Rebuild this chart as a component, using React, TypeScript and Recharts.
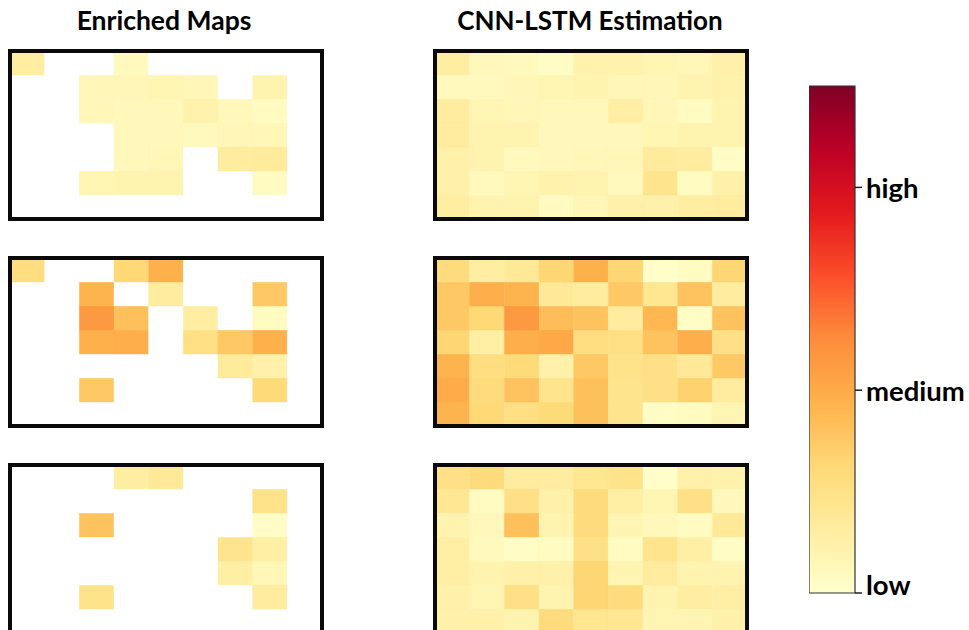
import React from 'react';
import { BarChart, Bar, XAxis, YAxis, Cell } from 'recharts';

const N = null;
const COLUMNS = [0, 1, 2, 3, 4, 5, 6, 7, 8];
const ROWS = [0, 1, 2, 3, 4, 5, 6];

const TITLES = ['Enriched Maps', 'CNN-LSTM Estimation'];
const COLORBAR_TICKS = [0, 0.4, 0.8];
const COLORBAR_LABELS = ['low', 'medium', 'high'];
const YLORRD = ['#ffffcc', '#ffeda0', '#fed976', '#feb24c', '#fd8d3c', '#fc4e2a', '#e31a1c', '#bd0026', '#800026'];

const enrichedTop = [
  [0.12, N, N, 0.04, N, N, N, N, N],
  [N, N, 0.06, 0.06, 0.07, 0.06, N, 0.08, N],
  [N, N, 0.06, 0.05, 0.05, 0.09, 0.05, 0.03, N],
  [N, N, N, 0.05, 0.05, 0.04, 0.06, 0.06, N],
  [N, N, N, 0.05, 0.06, N, 0.13, 0.14, N],
  [N, N, 0.07, 0.08, 0.08, N, N, 0.03, N],
  [N, N, N, N, N, N, N, N, N],
];

const estimationTop = [
  [0.12, 0.05, 0.04, 0.02, 0.09, 0.09, 0.07, 0.06, 0.10],
  [0.04, 0.04, 0.06, 0.07, 0.08, 0.06, 0.06, 0.08, 0.09],
  [0.13, 0.07, 0.06, 0.05, 0.05, 0.11, 0.06, 0.03, 0.08],
  [0.13, 0.08, 0.08, 0.05, 0.05, 0.05, 0.07, 0.08, 0.08],
  [0.10, 0.08, 0.04, 0.05, 0.06, 0.06, 0.14, 0.13, 0.02],
  [0.10, 0.04, 0.07, 0.09, 0.08, 0.04, 0.18, 0.03, 0.10],
  [0.12, 0.08, 0.08, 0.03, 0.06, 0.10, 0.10, 0.12, 0.13],
];

const enrichedMid = [
  [0.22, N, N, 0.25, 0.38, N, N, N, N],
  [N, N, 0.37, N, 0.13, N, N, 0.30, N],
  [N, N, 0.46, 0.33, N, 0.12, N, 0.03, N],
  [N, N, 0.38, 0.39, N, 0.21, 0.30, 0.38, N],
  [N, N, N, N, N, N, 0.14, 0.10, N],
  [N, N, 0.30, N, N, N, N, 0.24, N],
  [N, N, N, N, N, N, N, N, N],
];

const estimationMid = [
  [0.23, 0.12, 0.15, 0.26, 0.38, 0.26, 0.01, 0.03, 0.26],
  [0.30, 0.39, 0.37, 0.15, 0.13, 0.30, 0.17, 0.32, 0.13],
  [0.30, 0.25, 0.46, 0.34, 0.32, 0.13, 0.36, 0.02, 0.32],
  [0.26, 0.11, 0.39, 0.41, 0.22, 0.21, 0.32, 0.39, 0.20],
  [0.37, 0.22, 0.24, 0.10, 0.30, 0.19, 0.20, 0.15, 0.30],
  [0.40, 0.23, 0.32, 0.18, 0.33, 0.18, 0.20, 0.27, 0.13],
  [0.37, 0.25, 0.21, 0.24, 0.33, 0.18, 0.02, 0.03, 0.07],
];

const enrichedBot = [
  [N, N, N, 0.12, 0.15, N, N, N, N],
  [N, N, N, N, N, N, N, 0.19, N],
  [N, N, 0.32, N, N, N, N, 0.02, N],
  [N, N, N, N, N, N, 0.18, 0.11, N],
  [N, N, N, N, N, N, 0.11, 0.06, N],
  [N, N, 0.19, N, N, N, N, 0.13, N],
  [N, N, N, N, N, N, N, N, N],
];

const estimationBot = [
  [0.20, 0.23, 0.13, 0.13, 0.17, 0.19, 0.01, 0.10, 0.09],
  [0.16, 0.03, 0.20, 0.10, 0.23, 0.11, 0.07, 0.20, 0.05],
  [0.08, 0.05, 0.33, 0.08, 0.23, 0.07, 0.05, 0.03, 0.15],
  [0.11, 0.04, 0.02, 0.03, 0.20, 0.03, 0.18, 0.11, 0.02],
  [0.11, 0.08, 0.10, 0.10, 0.26, 0.07, 0.13, 0.08, 0.08],
  [0.10, 0.07, 0.20, 0.08, 0.26, 0.23, 0.08, 0.12, 0.11],
  [0.10, 0.10, 0.08, 0.23, 0.17, 0.16, 0.07, 0.07, 0.10],
];

function hexToRgb(h: string) {
  return [parseInt(h.slice(1, 3), 16), parseInt(h.slice(3, 5), 16), parseInt(h.slice(5, 7), 16)];
}

function colorFor(v: number | null) {
  if (v === null || v === undefined) return '#ffffff';
  const x = Math.max(0, Math.min(1, v)) * (YLORRD.length - 1);
  const i = Math.min(YLORRD.length - 2, Math.floor(x));
  const t = x - i;
  const a = hexToRgb(YLORRD[i]);
  const b = hexToRgb(YLORRD[i + 1]);
  const c = a.map((av, k) => Math.round(av + (b[k] - av) * t));
  return `rgb(${c[0]},${c[1]},${c[2]})`;
}

const PW = 312;
const PH = 168;

function Heatmap({ grid, left, top }: { grid: (number | null)[][]; left: number; top: number }) {
  const data = COLUMNS.map((c) => {
    const o: any = { c };
    ROWS.forEach((r) => (o['r' + r] = 1));
    return o;
  });
  const stackOrder = [...ROWS].reverse();
  return (
    <div style={{ position: 'absolute', left, top, width: PW, height: PH }}>
      <BarChart width={PW} height={PH} data={data} margin={{ top: 0, right: 0, bottom: 0, left: 0 }} barCategoryGap={0} barGap={0}>
        <XAxis dataKey="c" hide />
        <YAxis type="number" domain={[0, 7]} hide />
        {stackOrder.map((r) => (
          <Bar key={r} dataKey={'r' + r} stackId="s" barSize={PW / 9 - 0.002} isAnimationActive={false}>
            {COLUMNS.map((c) => (
              <Cell key={c} fill={colorFor(grid[r][c])} stroke={colorFor(grid[r][c])} strokeWidth={0.4} />
            ))}
          </Bar>
        ))}
      </BarChart>
      <div
        style={{
          position: 'absolute',
          left: -2,
          top: -2,
          width: PW + 4,
          height: PH + 4,
          border: '4px solid #0a0a0a',
          boxSizing: 'border-box',
        }}
      />
    </div>
  );
}

const CB_W = 46;
const CB_H = 507;
const CB_AXIS = 120;
const CB_PAD = 20;

function ColorTick(props: any) {
  const { x, y, payload } = props;
  const idx = COLORBAR_TICKS.indexOf(payload.value);
  const label = COLORBAR_LABELS[idx] ?? '';
  const dy = payload.value === 0 ? -9 : 0;
  return (
    <text x={x} y={y + dy} dominantBaseline="central" fontSize={27.5} fontWeight={700} fontFamily="Lato" fill="#000">
      {label}
    </text>
  );
}

function ColorBar() {
  const data = [{ k: 'cb', v: 1 }];
  return (
    <div style={{ position: 'absolute', left: 809, top: 86 - CB_PAD }}>
      <BarChart
        width={CB_W + CB_AXIS}
        height={CB_H + 2 * CB_PAD}
        data={data}
        margin={{ top: CB_PAD, right: 0, bottom: CB_PAD, left: 0 }}
        barCategoryGap={0}
      >
        <defs>
          <linearGradient id="ylorrd" x1="0" y1="1" x2="0" y2="0">
            {YLORRD.map((c, i) => (
              <stop key={i} offset={i / (YLORRD.length - 1)} stopColor={c} />
            ))}
          </linearGradient>
        </defs>
        <XAxis dataKey="k" hide />
        <YAxis
          orientation="right"
          type="number"
          domain={[0, 1]}
          ticks={COLORBAR_TICKS}
          width={CB_AXIS}
          axisLine={false}
          tickLine={{ stroke: '#222', strokeWidth: 1.5 }}
          tickSize={7}
          tickMargin={4}
          tick={<ColorTick />}
          interval={0}
        />
        <Bar dataKey="v" barSize={CB_W - 0.002} fill="url(#ylorrd)" stroke="#333" strokeWidth={1.2} isAnimationActive={false} />
      </BarChart>
    </div>
  );
}

export default function App() {
  return (
    <div
      style={{
        position: 'absolute',
        left: 0,
        top: 0,
        width: 969,
        height: 630,
        overflow: 'hidden',
        background: '#ffffff',
      }}
    >
      <svg width={969} height={45} style={{ position: 'absolute', left: 0, top: 0 }}>
        <text x={164} y={30} textAnchor="middle" fontSize={26.5} fontWeight={700} fontFamily="Lato" fill="#000">
          {TITLES[0]}
        </text>
        <text x={590} y={30} textAnchor="middle" fontSize={26} fontWeight={700} fontFamily="Lato" fill="#000">
          {TITLES[1]}
        </text>
      </svg>
      <Heatmap grid={enrichedTop} left={9.5} top={51} />
      <Heatmap grid={estimationTop} left={434.5} top={51} />
      <Heatmap grid={enrichedMid} left={9.5} top={258} />
      <Heatmap grid={estimationMid} left={434.5} top={258} />
      <Heatmap grid={enrichedBot} left={9.5} top={465} />
      <Heatmap grid={estimationBot} left={434.5} top={465} />
      <ColorBar />
    </div>
  );
}
